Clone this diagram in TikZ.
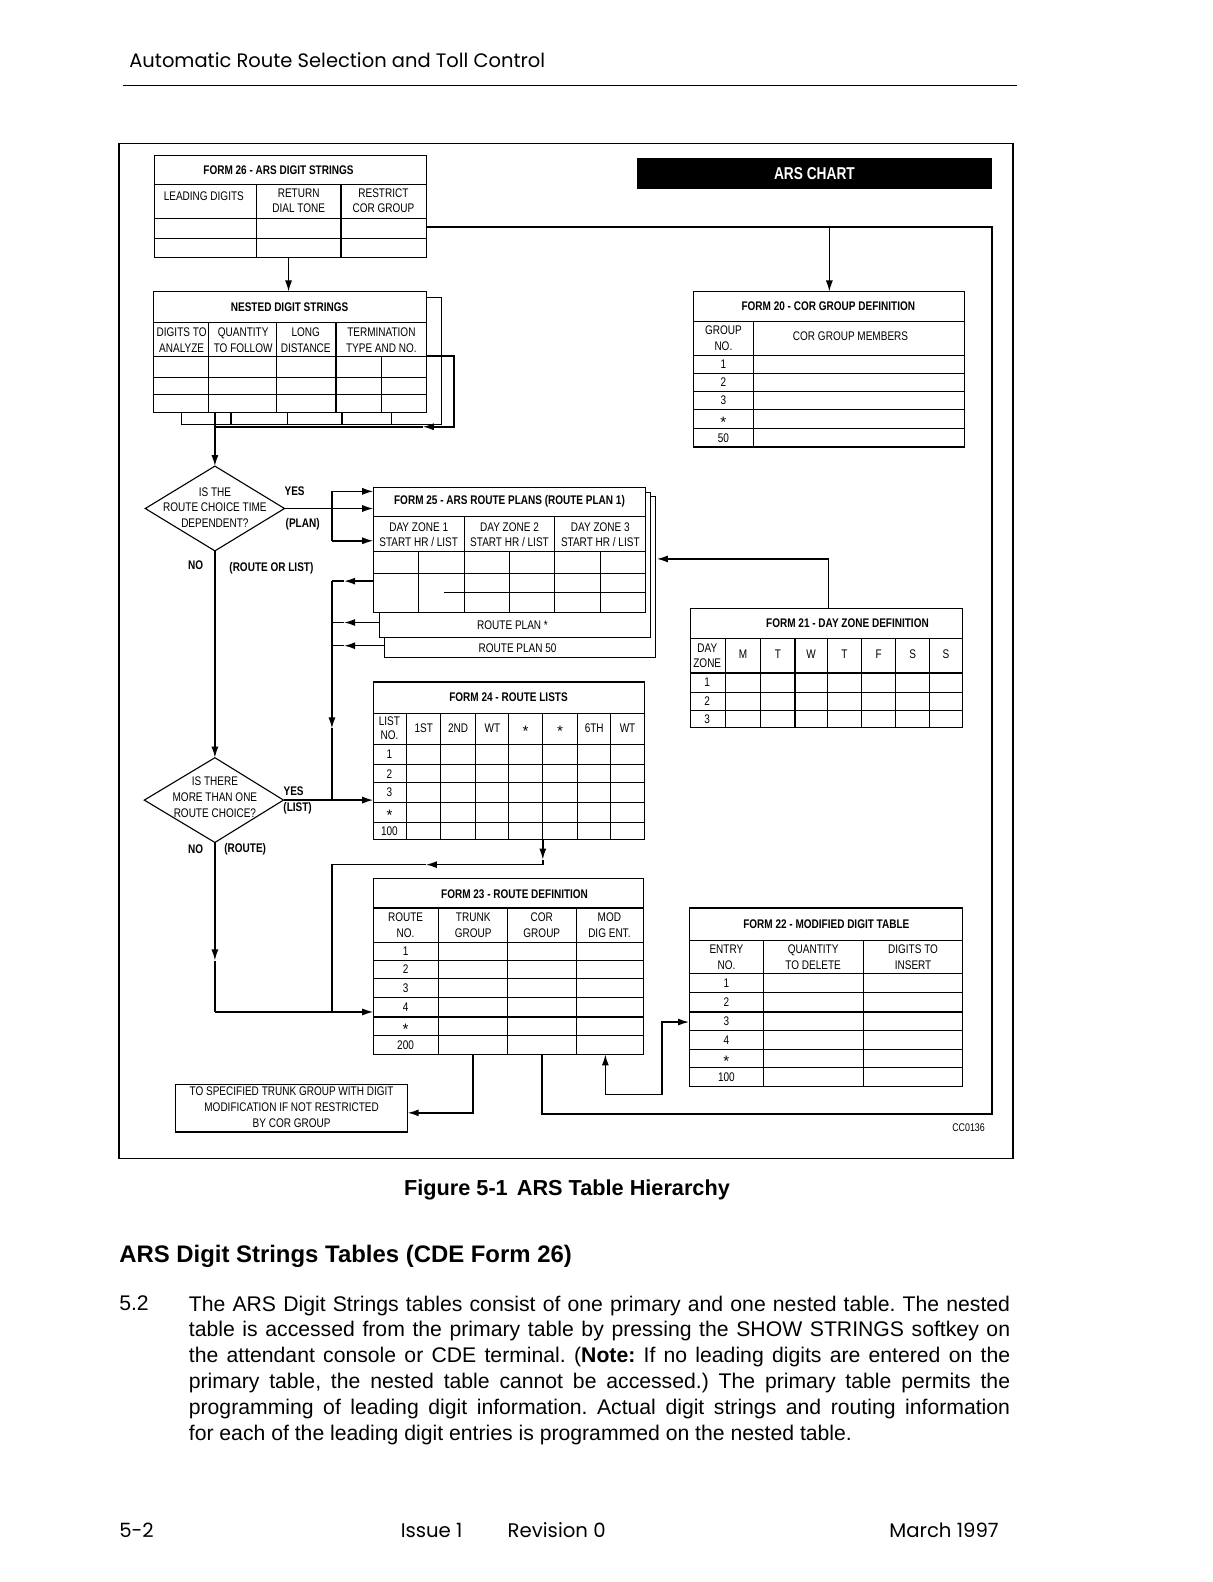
\documentclass[tikz,border=0pt]{standalone}
\usepackage{fontspec}
\setmainfont{Liberation Sans}
\newfontfamily\nf[FakeStretch=0.8]{Liberation Sans}
\newfontfamily\pop{Poppins}
\usetikzlibrary{arrows.meta}
\newcommand{\tf}{\nf\fontsize{12.4}{15.5}\selectfont}
\newcommand{\tfb}{\nf\bfseries\fontsize{12.4}{15.5}\selectfont}
\frenchspacing
\begin{document}
\begin{tikzpicture}[x=1pt,y=-1pt,
  tl/.style={line width=1.1pt},
  cn/.style={line width=1.5pt},
  ar/.style={-{Latex[length=11pt,width=7pt]}},
  txt/.style={font=\tf,inner sep=0pt,align=center},
  txb/.style={font=\tfb,inner sep=0pt,align=center},
  star/.style={font=\fontsize{15}{16}\selectfont,inner sep=0pt,yshift=-3.3pt}]
\useasboundingbox (0,0) rectangle (1202,1568);
\fill[white] (0,0) rectangle (1202,1568);

% header
\node[anchor=base west,font=\pop\fontsize{19.3}{22}\selectfont,inner sep=0pt] (hdr) at (128,67) {Automatic Route Selection and Toll Control};
\draw[line width=1pt] (122,85) -- (1008,85);

% frame
\draw[line width=1.5pt] (118,142) rectangle (1004,1148);

% ARS chart
\node[fill=black,text=white,font=\nf\bfseries\fontsize{17}{20}\selectfont,minimum width=352pt,minimum height=31pt,inner sep=0pt,anchor=north west] (chart) at (631,156) {ARS CHART};

% ---------- FORM 26
\draw[tl,fill=white] (153,154) rectangle (423,255);
\draw[tl] (153,183) -- (423,183) (153,217) -- (423,217) (153,236) -- (423,236)
          (254,183) -- (254,255) (338,183) -- (338,255);
\node[txb] (f26t) at (276,169) {FORM 26 - ARS DIGIT STRINGS};
\node[txt] (f26a) at (202,194) {LEADING DIGITS};
\node[txt] (f26b) at (296,199) {RETURN\\DIAL TONE};
\node[txt] (f26c) at (380,199) {RESTRICT\\COR GROUP};

% ---------- NESTED
\draw[tl,fill=white] (180,295) rectangle (438,421);
\draw[tl] (214,409) -- (214,421) (229,409) -- (229,421) (285,409) -- (285,421)
          (339,409) -- (339,421) (388,409) -- (388,421);
\draw[tl,fill=white] (152,289) rectangle (423,409);
\draw[tl] (152,320) -- (423,320) (152,353) -- (423,353) (152,374) -- (423,374) (152,391) -- (423,391)
          (207,320) -- (207,409) (274,320) -- (274,409) (333,320) -- (333,409) (378,353) -- (378,409);
\node[txb] (nt) at (287,304) {NESTED DIGIT STRINGS};
\node[txt] (n1) at (180,337) {DIGITS TO\\ANALYZE};
\node[txt] (n2) at (241,337) {QUANTITY\\TO FOLLOW};
\node[txt] (n3) at (303,337) {LONG\\DISTANCE};
\node[txt] (n4) at (378,337) {TERMINATION\\TYPE AND NO.};

% ---------- FORM 25 (stacked sheets)
\draw[tl,fill=white] (381,492) rectangle (650,652);
\draw[tl,fill=white] (376,488) rectangle (645,632);
\draw[tl,fill=white] (370,483) rectangle (640,607);
\draw[tl] (370,512) -- (640,512) (370,547) -- (640,547) (370,568) -- (640,568) (440,587) -- (640,587)
          (460,512) -- (460,607) (550,512) -- (550,607)
          (415,547) -- (415,607) (505,547) -- (505,607) (595,547) -- (595,607);
\node[txb] (f25t) at (505,497) {FORM 25 - ARS ROUTE PLANS (ROUTE PLAN 1)};
\node[txt] (z1) at (415,530) {DAY ZONE 1\\START HR / LIST};
\node[txt] (z2) at (505,530) {DAY ZONE 2\\START HR / LIST};
\node[txt] (z3) at (595,530) {DAY ZONE 3\\START HR / LIST};
\node[txt] (rp1) at (508,620) {ROUTE PLAN *};
\node[txt] (rp2) at (513,642) {ROUTE PLAN 50};

% ---------- FORM 24
\draw[tl,fill=white] (370,676) rectangle (639,832);
\draw[tl] (370,707) -- (639,707) (370,738) -- (639,738) (370,758) -- (639,758) (370,776) -- (639,776)
          (370,795) -- (639,795) (370,815) -- (639,815);
\foreach \x in {403,437,471,504,538,572,605} {\draw[tl] (\x,707) -- (\x,832);}
\node[txb] (f24t) at (504,691) {FORM 24 - ROUTE LISTS};
\node[txt,font=\nf\fontsize{12.4}{14}\selectfont] (l0) at (386,722) {LIST\\NO.};
\node[txt] (l1) at (420,722) {1ST};
\node[txt] (l2) at (454,722) {2ND};
\node[txt] (l3) at (488,722) {WT};
\node[star] (l4) at (521,722) {*};
\node[star] (l5) at (555,722) {*};
\node[txt] (l6) at (589,722) {6TH};
\node[txt] (l7) at (622,722) {WT};
\node[txt] (lr1) at (386,748) {1};
\node[txt] (lr2) at (386,767) {2};
\node[txt] (lr3) at (386,785.5) {3};
\node[star] (lr4) at (386,805) {*};
\node[txt] (lr5) at (386,823.5) {100};

% ---------- FORM 23
\draw[tl,fill=white] (370,871) rectangle (638,1045);
\draw[tl] (370,900) -- (638,900) (370,934) -- (638,934) (370,952) -- (638,952) (370,970) -- (638,970)
          (370,989) -- (638,989) (370,1008) -- (638,1008) (370,1026) -- (638,1026)
          (435,900) -- (435,1045) (503,900) -- (503,1045) (571,900) -- (571,1045);
\node[txb] (f23t) at (510,886) {FORM 23 - ROUTE DEFINITION};
\node[txt] (r0) at (402,917) {ROUTE\\NO.};
\node[txt] (r1) at (469,917) {TRUNK\\GROUP};
\node[txt] (r2) at (537,917) {COR\\GROUP};
\node[txt] (r3) at (604,917) {MOD\\DIG ENT.};
\node[txt] (rr1) at (402,943) {1};
\node[txt] (rr2) at (402,961) {2};
\node[txt] (rr3) at (402,979.5) {3};
\node[txt] (rr4) at (402,998.5) {4};
\node[star] (rr5) at (402,1017) {*};
\node[txt] (rr6) at (402,1035.5) {200};

% ---------- FORM 20
\draw[tl,fill=white] (687,289) rectangle (956,443);
\draw[tl] (687,319) -- (956,319) (687,352) -- (956,352) (687,370) -- (956,370) (687,388) -- (956,388)
          (687,406) -- (956,406) (687,425) -- (956,425) (747,319) -- (747,443);
\node[txb] (f20t) at (821,303) {FORM 20 - COR GROUP DEFINITION};
\node[txt] (g0) at (717,335.5) {GROUP\\NO.};
\node[txt] (g1) at (843,333) {COR GROUP MEMBERS};
\node[txt] (gr1) at (717,361) {1};
\node[txt] (gr2) at (717,379) {2};
\node[txt] (gr3) at (717,397) {3};
\node[star] (gr4) at (717,415.5) {*};
\node[txt] (gr5) at (717,434) {50};

% ---------- FORM 21
\draw[tl,fill=white] (684,603) rectangle (954,721);
\draw[tl] (684,633) -- (954,633) (684,667) -- (954,667) (684,686) -- (954,686) (684,704) -- (954,704);
\foreach \x in {719,754,788,820,854,888,921} {\draw[tl] (\x,633) -- (\x,721);}
\node[txb] (f21t) at (840,618) {FORM 21 - DAY ZONE DEFINITION};
\node[txt,font=\nf\fontsize{12.4}{14}\selectfont] (dz) at (701,650) {DAY\\ZONE};
\node[txt] (dM) at (736.5,648) {M};
\node[txt] (dT) at (771,648) {T};
\node[txt] (dW) at (804,648) {W};
\node[txt] (dTh) at (837,648) {T};
\node[txt] (dF) at (871,648) {F};
\node[txt] (dS) at (904.5,648) {S};
\node[txt] (dSu) at (937.5,648) {S};
\node[txt] (dr1) at (701,676.5) {1};
\node[txt] (dr2) at (701,695) {2};
\node[txt] (dr3) at (701,712.5) {3};

% ---------- FORM 22
\draw[tl,fill=white] (683,900) rectangle (954,1077);
\draw[tl] (683,932) -- (954,932) (683,965) -- (954,965) (683,984) -- (954,984) (683,1003) -- (954,1003)
          (683,1021) -- (954,1021) (683,1040) -- (954,1040) (683,1058) -- (954,1058)
          (757,932) -- (757,1077) (856,932) -- (856,1077);
\node[txb] (f22t) at (819,916) {FORM 22 - MODIFIED DIGIT TABLE};
\node[txt] (e0) at (720,948.5) {ENTRY\\NO.};
\node[txt] (e1) at (806,948.5) {QUANTITY\\TO DELETE};
\node[txt] (e2) at (905,948.5) {DIGITS TO\\INSERT};
\node[txt] (er1) at (720,974.5) {1};
\node[txt] (er2) at (720,993.5) {2};
\node[txt] (er3) at (720,1012) {3};
\node[txt] (er4) at (720,1030.5) {4};
\node[star] (er5) at (720,1049) {*};
\node[txt] (er6) at (720,1067.5) {100};

% ---------- bottom box
\draw[tl,fill=white] (174,1075) rectangle (404,1122);
\node[txt] (dest) at (289,1097.5) {TO SPECIFIED TRUNK GROUP WITH DIGIT\\MODIFICATION IF NOT RESTRICTED\\BY COR GROUP};
\node[txt,font=\nf\fontsize{11}{13}\selectfont] (cc) at (960,1118) {CC0136};

% ---------- diamonds
\coordinate (d1t) at (213,462); \coordinate (d1r) at (282,504);
\coordinate (d1b) at (213,546); \coordinate (d1l) at (144,504);
\draw[tl] (d1t) -- (d1r) -- (d1b) -- (d1l) -- cycle;
\node[txt] (d1txt) at (213,503) {IS THE\\ROUTE CHOICE TIME\\DEPENDENT?};
\coordinate (d2t) at (213,751); \coordinate (d2r) at (281,793);
\coordinate (d2b) at (213,835); \coordinate (d2l) at (143,793);
\draw[tl] (d2t) -- (d2r) -- (d2b) -- (d2l) -- cycle;
\node[txt] (d2txt) at (213,790) {IS THERE\\MORE THAN ONE\\ROUTE CHOICE?};

\node[txb] (yes1) at (292,487) {YES};
\node[txb] (plan) at (300,520) {(PLAN)};
\node[txb] (no1) at (194,560) {NO};
\node[txb] (rol) at (269,563) {(ROUTE OR LIST)};
\node[txb] (yes2) at (291,784) {YES};
\node[txb] (list) at (295,801) {(LIST)};
\node[txb] (no2) at (194,842) {NO};
\node[txb] (rte) at (243,842) {(ROUTE)};

% ---------- connectors
% form 26 -> nested
\coordinate (f26out) at (286,255); \coordinate (nin) at (286,289);
\draw[cn,ar] (f26out) -- (nin);
% nested loop and exit
\coordinate (nA) at (423,353); \coordinate (nC) at (450,423);
\coordinate (nM) at (419,423); \coordinate (nD) at (213,423);
\coordinate (nout) at (213,409);
\draw[cn,ar] (nA) -| (nC) -- (nM);
\draw[cn] (nM) -- (nD);
\draw[cn,ar] (nout) -- (d1t);
% diamond 1 yes -> form 25
\coordinate (b1) at (329,504); \coordinate (b1a) at (329,487); \coordinate (b1c) at (329,536);
\coordinate (f25a) at (370,487); \coordinate (f25b) at (370,504); \coordinate (f25c) at (370,536);
\draw[cn] (d1r) -- (b1);
\draw[cn] (b1a) -- (b1c);
\draw[cn,ar] (b1a) -- (f25a);
\draw[cn,ar] (b1) -- (f25b);
\draw[cn,ar] (b1c) -- (f25c);
% form 25 returns
\coordinate (r1s) at (370,576); \coordinate (r1m) at (341,576); \coordinate (r1e) at (329,576);
\coordinate (r2s) at (376,617); \coordinate (r2m) at (341,617); \coordinate (r2e) at (329,617);
\coordinate (r3s) at (381,640); \coordinate (r3m) at (341,640); \coordinate (r3e) at (329,640);
\draw[cn,ar] (r1s) -- (r1m); \draw[cn] (r1m) -- (r1e);
\draw[cn,ar] (r2s) -- (r2m); \draw[cn] (r2m) -- (r2e);
\draw[cn,ar] (r3s) -- (r3m); \draw[cn] (r3m) -- (r3e);
\coordinate (b2m) at (329,722); \coordinate (b2e) at (329,793);
\draw[cn,ar] (r1e) -- (b2m); \draw[cn] (b2m) -- (b2e);
% form 21 -> form 25
\coordinate (f21top) at (821,603); \coordinate (f25r) at (651,554);
\draw[cn,ar] (f21top) |- (f25r);
% diamond 1 no -> diamond 2
\draw[cn,ar] (d1b) -- (d2t);
% diamond 2 yes -> form 24
\coordinate (f24in) at (370,793);
\draw[cn,ar] (d2r) -- (f24in);
% diamond 2 no -> form 23
\coordinate (nm) at (213,952); \coordinate (nc) at (213,1003); \coordinate (f23in) at (370,1003);
\draw[cn,ar] (d2b) -- (nm); \draw[cn] (nm) -- (nc);
\draw[cn,ar] (nc) -- (f23in);
% form 24 -> form 23
\coordinate (f24out) at (538,832); \coordinate (q1) at (538,852); \coordinate (q2) at (538,857);
\coordinate (q3) at (422,857); \coordinate (q4) at (329,857); \coordinate (q5) at (329,1003);
\draw[cn,ar] (f24out) -- (q1); \draw[cn] (q1) -- (q2);
\draw[cn,ar] (q2) -- (q3); \draw[cn] (q3) -- (q4) -- (q5);
% form 23 -> destination
\coordinate (f23tg) at (469,1045); \coordinate (boxr) at (404,1103);
\draw[cn,ar] (f23tg) |- (boxr);
% form 23 cor / form 26 -> form 20
\coordinate (f23cor) at (537,1045); \coordinate (cc2) at (983,1104);
\coordinate (cc3) at (983,225); \coordinate (f26r) at (423,225);
\coordinate (j20) at (822,225); \coordinate (f20in) at (822,289);
\draw[cn] (f23cor) |- (cc2) -- (cc3) -- (f26r);
\draw[cn,ar] (j20) -- (f20in);
% form 23 mod <-> form 22
\coordinate (f23mod) at (600,1045); \coordinate (k1) at (600,1085);
\coordinate (k2) at (656,1085); \coordinate (k3) at (656,1013); \coordinate (f22in) at (683,1013);
\draw[cn,{Latex[length=11pt,width=7pt]}-{Latex[length=11pt,width=7pt]}] (f23mod) -- (k1) -- (k2) -- (k3) -- (f22in);

% ---------- caption and text
\node[anchor=base,font=\bfseries\fontsize{21.5}{24}\selectfont,inner sep=0pt] (cap) at (562,1185) {Figure 5-1\hspace{9pt}ARS Table Hierarchy};
\node[anchor=base west,font=\bfseries\fontsize{23.7}{28}\selectfont,inner sep=0pt] (head) at (118,1251) {ARS Digit Strings Tables (CDE Form 26)};
\node[anchor=base west,font=\fontsize{21}{25.6}\selectfont,inner sep=0pt] (sec) at (118,1299) {5.2};
\node[anchor=north west,text width=814pt,align=justify,font=\fontsize{21}{25.6}\selectfont,inner sep=0pt] (para) at (187,1284)
{The ARS Digit Strings tables consist of one primary and one nested table. The nested\linebreak
table is accessed from the primary table by pressing the SHOW STRINGS softkey on\linebreak
the attendant console or CDE terminal. (\textbf{Note:} If no leading digits are entered on the\linebreak
primary table, the nested table cannot be accessed.) The primary table permits the\linebreak
programming of leading digit information. Actual digit strings and routing information\linebreak
for each of the leading digit entries is programmed on the nested table.};

% footer
\node[anchor=base west,font=\pop\fontsize{19.5}{22}\selectfont,inner sep=0pt] (ft1) at (118,1524) {5-2};
\node[anchor=base west,font=\pop\fontsize{19.5}{22}\selectfont,inner sep=0pt] (ft2) at (397,1524) {Issue 1};
\node[anchor=base west,font=\pop\fontsize{19.5}{22}\selectfont,inner sep=0pt] (ft3) at (503,1524) {Revision 0};
\node[anchor=base east,font=\pop\fontsize{19.5}{22}\selectfont,inner sep=0pt] (ft4) at (990,1524) {March 1997};
\end{tikzpicture}
\end{document}
